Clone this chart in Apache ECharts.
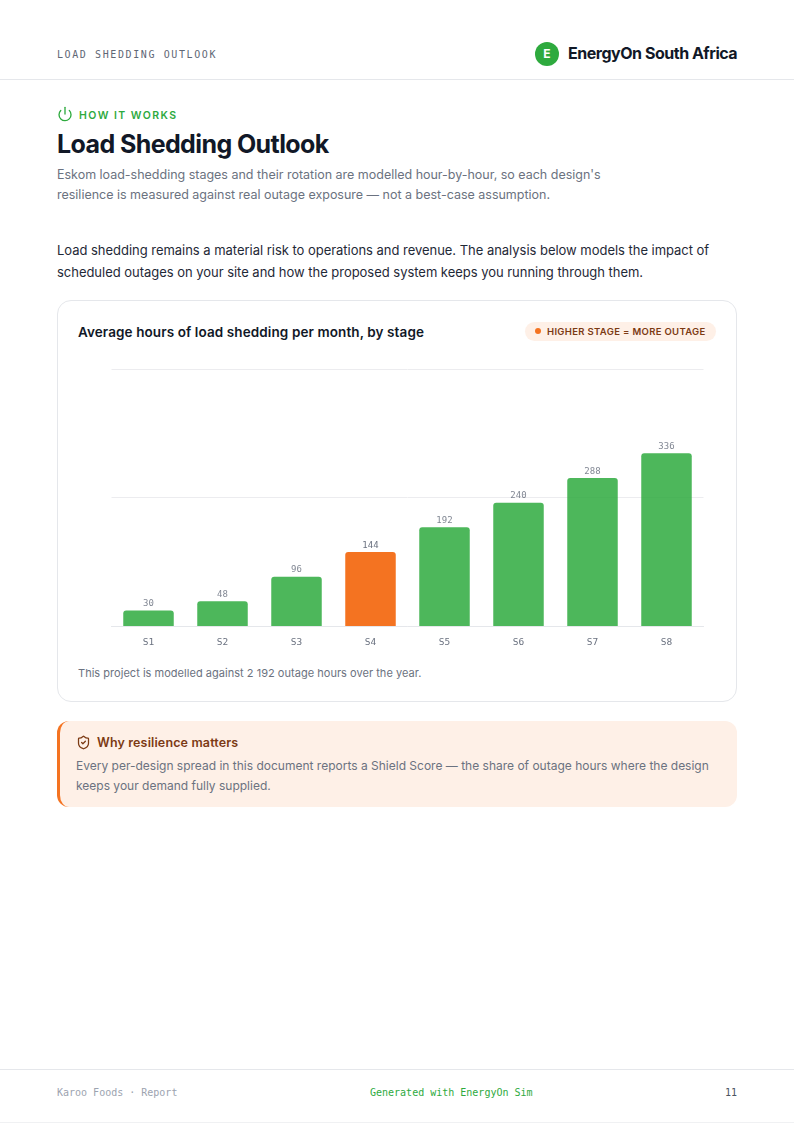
<!DOCTYPE html>
<html><head><meta charset="utf-8">
<script src="https://cdn.jsdelivr.net/npm/echarts@6/dist/echarts.min.js"></script>
<style>
html,body{margin:0;padding:0;background:#fff;}
body{width:794px;height:1123px;position:relative;overflow:hidden;font-family:Inter,sans-serif;}
.a{position:absolute;white-space:nowrap;}
.mono{font-family:"DejaVu Sans Mono",monospace;}
</style></head><body>
<div class="a mono" style="left:57px;top:48px;font-size:10px;line-height:14px;letter-spacing:1.6px;color:#5f6775;font-weight:400">LOAD SHEDDING OUTLOOK</div>
<div class="a" style="left:535px;top:42px;width:24px;height:24px;border-radius:50%;background:#2eaa3e;color:#fff;font-size:12px;font-weight:700;line-height:24px;text-align:center">E</div>
<div class="a" style="left:568px;top:42px;font-size:16px;line-height:22px;font-weight:700;letter-spacing:-.47px;color:#111827">EnergyOn South Africa</div>
<div class="a" style="left:0;top:79px;width:794px;height:1px;background:#e5e7eb"></div>

<svg class="a" style="left:57px;top:106px" width="16" height="16" viewBox="0 0 24 24" fill="none" stroke="#2eaa3e" stroke-width="2" stroke-linecap="round" stroke-linejoin="round"><path d="M12 2v10"/><path d="M18.4 6.6a9 9 0 1 1-12.77.04"/></svg>
<div class="a" style="left:79px;top:108px;font-size:10.5px;line-height:15px;font-weight:600;letter-spacing:1.45px;color:#2eaa3e">HOW IT WORKS</div>
<div class="a" style="left:57px;top:127px;font-size:25px;line-height:34px;font-weight:700;letter-spacing:-.6px;color:#111827">Load Shedding Outlook</div>
<div class="a" style="left:57px;top:165px;font-size:12.5px;line-height:20px;letter-spacing:-.01px;color:#6b7280">Eskom load-shedding stages and their rotation are modelled hour-by-hour, so each design's<br>resilience is measured against real outage exposure — not a best-case assumption.</div>
<div class="a" style="left:57px;top:239px;font-size:13px;line-height:22px;letter-spacing:-.03px;color:#1f2937">Load shedding remains a material risk to operations and revenue. The analysis below models the impact of<br>scheduled outages on your site and how the proposed system keeps you running through them.</div>

<div class="a" style="left:57px;top:300px;width:678px;height:400px;border:1px solid #e5e7eb;border-radius:14px;background:#fff"></div>
<div class="a" style="left:78px;top:323px;font-size:13.5px;line-height:18px;font-weight:600;letter-spacing:.1px;color:#111827">Average hours of load shedding per month, by stage</div>
<div class="a" style="left:525px;top:322px;width:191px;height:19px;border-radius:10px;background:#fef0e7"></div>
<div class="a" style="left:535px;top:328px;width:6px;height:6px;border-radius:50%;background:#f47321"></div>
<div class="a" style="left:547px;top:324px;font-size:9.5px;line-height:15px;font-weight:600;letter-spacing:.33px;color:#7c3a14">HIGHER STAGE = MORE OUTAGE</div>
<div id="chart" class="a" style="left:58px;top:350px;width:676px;height:310px"></div>
<div class="a" style="left:78px;top:665px;font-size:11px;line-height:16px;letter-spacing:.03px;color:#6b7280">This project is modelled against 2 192 outage hours over the year.</div>

<div class="a" style="left:57px;top:720.5px;width:677px;height:86.5px;border-left:3px solid #f47321;border-radius:12px;background:#fef0e7"></div>
<svg class="a" style="left:76px;top:735px" width="15" height="15" viewBox="0 0 24 24" fill="none" stroke="#7c3a14" stroke-width="2" stroke-linecap="round" stroke-linejoin="round"><path d="M20 13c0 5-3.5 7.5-7.66 8.95a1 1 0 0 1-.67-.01C7.5 20.5 4 18 4 13V6a1 1 0 0 1 1-1c2 0 4.5-1.2 6.24-2.72a1.17 1.17 0 0 1 1.52 0C14.51 3.81 17 5 19 5a1 1 0 0 1 1 1z"/><path d="m9 12 2 2 4-4"/></svg>
<div class="a" style="left:97px;top:734px;font-size:12.5px;line-height:18px;font-weight:600;letter-spacing:.14px;color:#7c3a14">Why resilience matters</div>
<div class="a" style="left:76px;top:756px;font-size:12px;line-height:20px;color:#6b7280">Every per-design spread in this document reports a Shield Score — the share of outage hours where the design<br>keeps your demand fully supplied.</div>

<div class="a" style="left:0;top:1069px;width:794px;height:1px;background:#e5e7eb"></div>
<div class="a mono" style="left:57px;top:1086px;font-size:10px;line-height:14px;color:#9ca3af">Karoo Foods · Report</div>
<div class="a mono" style="left:370px;top:1086px;font-size:10px;line-height:14px;color:#2eaa3e">Generated with EnergyOn Sim</div>
<div class="a mono" style="right:57px;top:1086px;font-size:10px;line-height:14px;color:#4b5563">11</div>
<div class="a" style="left:0;top:1122px;width:794px;height:1px;background:#f0f1f3"></div>

<script>
const categories = ["S1","S2","S3","S4","S5","S6","S7","S8"];
const hours = [30,48,96,144,192,240,288,336];
const highlighted = "S4";
const axisMax = 500;
const axisStep = 250;
const green = "#2eaa3e", orange = "#f47321";
const chart = echarts.init(document.getElementById("chart"), null, {renderer:"canvas"});
chart.setOption({
  animation:false,
  grid:{left:53.5,right:30.5,top:19,bottom:34},
  xAxis:{type:"category",data:categories,
    axisLine:{show:true,lineStyle:{color:"#e5e7eb",width:1}},axisTick:{show:false},
    axisLabel:{color:"#6b7280",fontFamily:"DejaVu Sans Mono",fontSize:9.5,margin:12}},
  yAxis:{type:"value",min:0,max:axisMax,interval:axisStep,
    axisLine:{show:false},axisTick:{show:false},axisLabel:{show:false},
    splitLine:{lineStyle:{color:"#ececef",width:1}}},
  series:[{type:"bar",barWidth:50.5,
    data:categories.map((c,i)=>({value:hours[i],itemStyle:{color:c===highlighted?orange:green,opacity:c===highlighted?1:0.85,borderRadius:[3,3,0,0]}})),
    label:{show:true,position:"top",distance:2,color:"#6b7280",fontFamily:"DejaVu Sans Mono",fontSize:9}}]
});
</script>
</body></html>
